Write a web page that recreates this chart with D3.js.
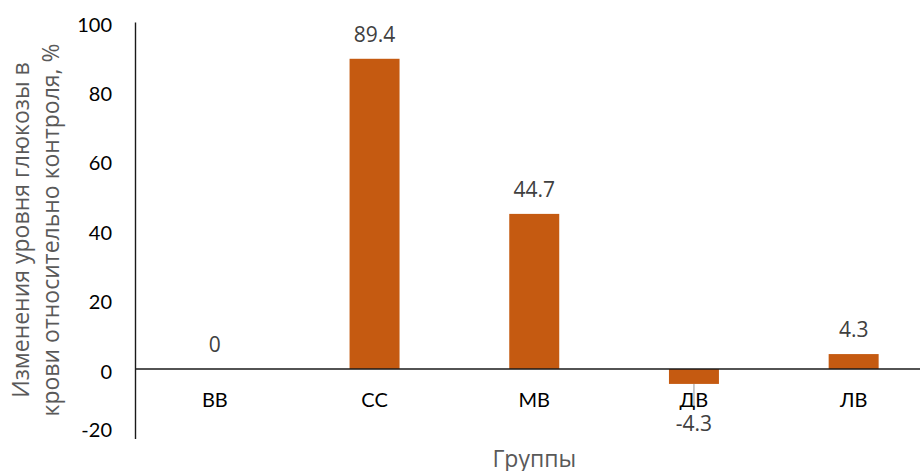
<!DOCTYPE html>
<html lang="ru">
<head>
<meta charset="utf-8">
<script src="https://cdn.jsdelivr.net/npm/d3@7"></script>
<style>
  html, body { margin: 0; padding: 0; background: #fff; }
  svg { display: block; }
</style>
</head>
<body>
<svg id="chart" width="920" height="471"></svg>
<script>
// Groups and their change in blood glucose relative to control, %
const categories = ["ВВ", "СС", "МВ", "ДВ", "ЛВ"];
const values = [0, 89.4, 44.7, -4.3, 4.3];
const yTicks = [-20, 0, 20, 40, 60, 80, 100];
const yTitleLines = ["Изменения уровня глюкозы в", "крови относительно контроля, %"];
const xTitle = "Группы";

const svg = d3.select("#chart");
const barColor = "#C55A11";
const axisFont = "Lato, 'Open Sans', sans-serif";
const labelFont = "'Open Sans', sans-serif";
const plain = d => String(d);   // keeps an ASCII hyphen for negatives

const x = d3.scaleBand()
  .domain(categories)
  .range([135, 933.5])
  .paddingInner(0.687)
  .paddingOuter(0.3435);

const y = d3.scaleLinear()
  .domain([-20, 100])
  .range([438.4, 22]);

// Bars
svg.append("g")
  .selectAll("rect")
  .data(values)
  .join("rect")
  .attr("x", (d, i) => x(categories[i]))
  .attr("y", d => y(Math.max(0, d)))
  .attr("width", x.bandwidth())
  .attr("height", d => Math.abs(y(d) - y(0)))
  .attr("fill", barColor);

// Y axis: line and labels only
const yAxis = svg.append("g")
  .attr("transform", `translate(${x.range()[0]},0)`)
  .call(d3.axisLeft(y).tickValues(yTicks).tickSize(0).tickPadding(23).tickFormat(plain));
yAxis.select(".domain").attr("stroke", "#1a1a1a").attr("stroke-width", 1.4);
yAxis.selectAll(".tick text")
  .attr("font-family", axisFont)
  .attr("font-size", 20)
  .attr("fill", "#000")
  .attr("dy", d => d === -20 ? "-0.1em" : "0.45em");

// Zero baseline
svg.append("line")
  .attr("x1", x.range()[0]).attr("x2", 920)
  .attr("y1", y(0)).attr("y2", y(0))
  .attr("stroke", "#1a1a1a").attr("stroke-width", 1.4);

// Category labels under the baseline
svg.append("g")
  .selectAll("text")
  .data(categories)
  .join("text")
  .attr("x", d => x(d) + x.bandwidth() / 2)
  .attr("y", y(0) + 38)
  .attr("text-anchor", "middle")
  .attr("font-family", axisFont)
  .attr("font-size", 20)
  .attr("fill", "#000")
  .text(d => d);

// Leader line for the negative value label
values.forEach((v, i) => {
  if (v < 0) {
    const cx = x(categories[i]) + x.bandwidth() / 2;
    svg.append("line")
      .attr("x1", cx).attr("x2", cx)
      .attr("y1", y(v)).attr("y2", y(v) + 22)
      .attr("stroke", "#A6A6A6").attr("stroke-width", 1.2);
  }
});

// Value labels
svg.append("g")
  .selectAll("text")
  .data(values)
  .join("text")
  .attr("x", (d, i) => x(categories[i]) + x.bandwidth() / 2)
  .attr("y", d => d >= 0 ? y(d) - 17 : y(d) + 47)
  .attr("text-anchor", "middle")
  .attr("font-family", labelFont)
  .attr("font-size", 21)
  .attr("fill", "#404040")
  .text(plain);

// Y axis title (two lines, rotated)
const yTitle = svg.append("text")
  .attr("transform", "translate(29,230) rotate(-90)")
  .attr("text-anchor", "middle")
  .attr("font-family", labelFont)
  .attr("font-size", 23)
  .attr("fill", "#595959");
yTitleLines.forEach((line, i) => {
  yTitle.append("tspan")
    .attr("x", 0)
    .attr("dy", i === 0 ? 0 : 30)
    .text(line);
});

// X axis title
svg.append("text")
  .attr("x", (x.range()[0] + x.range()[1]) / 2)
  .attr("y", 467)
  .attr("text-anchor", "middle")
  .attr("font-family", labelFont)
  .attr("font-size", 23)
  .attr("fill", "#595959")
  .text(xTitle);
</script>
</body>
</html>
